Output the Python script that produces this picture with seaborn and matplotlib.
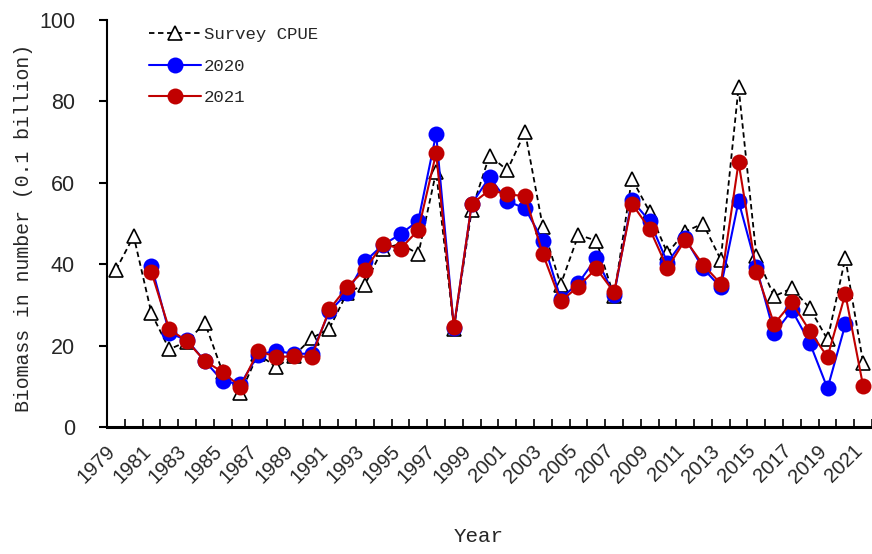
import matplotlib
matplotlib.use("Agg")
import matplotlib.pyplot as plt
import matplotlib.transforms as mtransforms
import seaborn as sns
import numpy as np
import pandas as pd

years_cpue = list(range(1979, 2022))
cpue = [38.6, 46.9, 27.9, 19.1, 21.0, 25.6, 13.5, 8.3, 18.0, 14.7,
        17.5, 21.8, 24.2, 33.0, 35.0, 43.8, 45.0, 42.5, 62.7, 24.2,
        53.3, 66.7, 63.1, 72.5, 49.1, 35.0, 47.2, 45.8, 32.1, 61.0,
        52.9, 42.7, 48.0, 50.0, 41.1, 83.5, 42.1, 32.1, 34.1, 29.2,
        21.5, 41.5, 15.8]

years_2020 = list(range(1981, 2021))
est_2020 = [39.6, 23.1, 21.3, 16.2, 11.3, 10.5, 17.8, 18.7, 18.0, 18.0,
            28.4, 32.9, 40.7, 44.7, 47.4, 50.7, 72.0, 24.4, 54.8, 61.4,
            55.5, 53.7, 45.8, 31.5, 35.4, 41.5, 32.5, 55.7, 50.6, 40.4,
            46.4, 39.0, 34.3, 55.5, 39.3, 23.0, 28.7, 20.7, 9.5, 25.2]

years_2021 = list(range(1981, 2022))
est_2021 = [38.0, 24.0, 21.1, 16.2, 13.5, 9.9, 18.7, 17.2, 17.4, 17.2,
            28.9, 34.4, 38.6, 45.0, 43.8, 48.4, 67.3, 24.6, 54.8, 58.2,
            57.2, 56.7, 42.5, 30.9, 34.5, 39.0, 33.1, 54.9, 48.7, 39.0,
            46.0, 39.9, 35.2, 65.0, 38.2, 25.3, 30.6, 23.6, 17.2, 32.7,
            10.1]

tick_years = list(range(1979, 2022, 2))
yticks = [0, 20, 40, 60, 80, 100]

sns.set_style("white")
plt.rcParams['font.family'] = ['Liberation Sans', 'DejaVu Sans']

fig = plt.figure(figsize=(8.72, 5.54), dpi=100)
ax = fig.add_axes([107/872, 127/554, 765/872, 407/554])

sns.lineplot(x=years_cpue, y=cpue, ax=ax, color='black', linewidth=1.3,
             linestyle=(0, (3, 2)), marker='^', markersize=10,
             markerfacecolor='white', markeredgecolor='black',
             markeredgewidth=1.2, label='Survey CPUE', zorder=2)
sns.lineplot(x=years_2020, y=est_2020, ax=ax, color='#0000FF', linewidth=1.5,
             marker='o', markersize=11.5, markeredgewidth=0,
             label='2020', zorder=3)
sns.lineplot(x=years_2021, y=est_2021, ax=ax, color='#C00000', linewidth=1.5,
             marker='o', markersize=11.5, markeredgewidth=0,
             label='2021', zorder=4)

ax.set_xlim(1978.5, 2021.45)
ax.set_ylim(0, 100)
ax.set_xticks(tick_years)
ax.set_xticklabels([str(y) for y in tick_years], rotation=45, ha='right',
                   va='bottom', rotation_mode='anchor', fontsize=14.5)
ax.set_xticks(np.arange(1978.5, 2021.6, 1.0), minor=True)
ax.tick_params(axis='x', which='major', length=0, pad=20)
ax.tick_params(axis='x', which='minor', direction='in', length=6,
               width=1.2, color='black', bottom=True)
ax.set_yticks(yticks)
ax.set_yticklabels([str(v) for v in yticks], fontsize=15.5)
ax.tick_params(axis='y', direction='out', length=6, width=1.5,
               color='black', left=True, pad=17)

shift = mtransforms.ScaledTranslation(3/100, 0, fig.dpi_scale_trans)
for t in ax.xaxis.get_major_ticks():
    t.label1.set_transform(t.label1.get_transform() + shift)

for s in ['top', 'right']:
    ax.spines[s].set_visible(False)
ax.spines['left'].set_linewidth(1.5)
ax.spines['bottom'].set_linewidth(2.2)
ax.spines['left'].set_color('black')
ax.spines['bottom'].set_color('black')

ax.set_xlabel('Year', fontsize=15, family=['Liberation Mono'])
ax.xaxis.set_label_coords(0.486, -0.246)
ax.set_ylabel('Biomass in number (0.1 billion)', fontsize=14.3,
              family=['Liberation Mono'])
ax.yaxis.set_label_coords(-0.097, 0.489)

leg = ax.legend(loc='upper left', bbox_to_anchor=(0.046, 1.0), frameon=False,
                prop={'family': 'Liberation Mono', 'size': 12.5},
                handlelength=3.0, handletextpad=0.15, labelspacing=0.95,
                borderaxespad=0)

fig.savefig('out.png', dpi=100)
